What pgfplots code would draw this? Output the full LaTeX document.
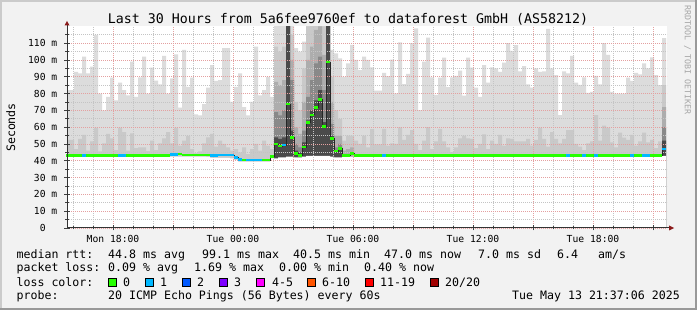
\documentclass[border=0pt]{standalone}
\usepackage{pgfplots}
\pgfplotsset{compat=1.18}
\usepackage{pgfplotstable}
\usepackage{fontspec}
\setmainfont{DejaVu Sans Mono}
\usetikzlibrary{arrows.meta}

\definecolor{bgc}{HTML}{F2F2F2}
\definecolor{shadeA}{HTML}{CBCBCB}
\definecolor{shadeB}{HTML}{999999}
\definecolor{smokeA}{HTML}{DCDCDC}
\definecolor{smokeB}{HTML}{C9C9C9}
\definecolor{smokeC}{HTML}{ADADAD}
\definecolor{smokeD}{HTML}{898989}
\definecolor{smokeE}{HTML}{4A4A4A}
\definecolor{lossA}{HTML}{26FF00}
\definecolor{lossB}{HTML}{00B8FF}
\definecolor{lossC}{HTML}{0059FF}
\definecolor{lossD}{HTML}{7E00FF}
\definecolor{lossE}{HTML}{FF00FF}
\definecolor{lossF}{HTML}{FF5500}
\definecolor{lossG}{HTML}{FF0000}
\definecolor{lossH}{HTML}{A10000}
\definecolor{mgrid}{HTML}{E4A0A0}
\definecolor{ngrid}{HTML}{C4C4C4}
\definecolor{arrowred}{HTML}{8B1A1A}

\newcommand\ticfont{\fontsize{9.7bp}{11bp}\selectfont}
\newcommand\legfont{\fontsize{11.6bp}{13bp}\selectfont}
\newcommand\titfont{\fontsize{13.3bp}{15bp}\selectfont}
\newcommand\tinfont{\fontsize{8.3bp}{9bp}\selectfont}

% k: 12-minute bar index (time = 15.65 h + 0.2 h * k, hours after Mon 00:00)
\pgfplotstableread{
k top v2 v3 v4 v5 lo med loss
0 82 52.4 0 0 0 42.3 43.2 g
1 82 52.4 0 0 0 42.3 43.2 g
2 93 47 0 0 0 42.3 43.2 g
3 92 53 0 0 0 42.3 43.2 g
4 102 55.4 0 0 0 42.3 43.2 b
5 92 46 0 0 0 42.3 43.2 g
6 96 51.5 0 0 0 42.3 43.2 g
7 115 59.7 0 0 0 42.3 43.2 g
8 80 45.6 0 0 0 42.3 43.2 g
9 70 50.4 0 0 0 42.3 43.2 g
10 78 56 0 0 0 42.3 43.2 g
11 89.5 53.4 0 0 0 42.3 43.2 g
12 76 46.4 0 0 0 42.3 43.2 g
13 86.5 59.7 0 0 0 42.3 43.2 b
14 82 57 0 0 0 42.3 43.2 b
15 79 46 0 0 0 42.3 43.2 g
16 99 56.3 0 0 0 42.3 43.2 g
17 78 47.6 0 0 0 42.3 43.2 g
18 89.7 48 0 0 0 42.3 43.2 g
19 102 48 0 0 0 42.3 43.2 g
20 80 45.8 0 0 0 42.3 43.2 g
21 95.4 52 0 0 0 42.3 43.2 g
22 87.7 46.4 0 0 0 42.3 43.2 g
23 85.5 50.4 0 0 0 42.3 43.2 g
24 102.4 53.4 0 0 0 42.3 43.2 g
25 80 57 0 0 0 42.3 43.2 g
26 89 50.4 0 0 0 42.5 43.6 b
27 103.4 59.7 0 0 0 42.5 43.6 b
28 71.6 49 0 0 0 42.5 44.0 g
29 106 52 0 0 0 42.5 43.4 g
30 84 54.8 0 0 0 42.5 43.4 g
31 89.5 47 0 0 0 42.5 43.4 g
32 67.7 44.5 0 0 0 42.5 43.4 g
33 67 45.6 0 0 0 42.5 43.4 g
34 73.8 50.4 0 0 0 42.5 43.4 g
35 83.6 54 0 0 0 42.3 43.4 g
36 97 56 0 0 0 41.8 43.0 b
37 87.5 48.4 0 0 0 41.8 43.2 b
38 88 52 0 0 0 41.8 43.4 b
39 107 50 0 0 0 41.8 43.4 b
40 107 48 0 0 0 41.8 43.4 b
41 75 46 0 0 0 41.5 43.4 b
42 84 47 0 0 0 40.5 42.0 b
43 92 45 0 0 0 39.5 40.6 b
44 72 48 0 0 0 39.5 40.5 g
45 67 44 0 0 0 39.5 40.5 b
46 75 47 0 0 0 39.5 40.5 b
47 108 50 0 0 0 39.5 40.5 b
48 79 46 0 0 0 39.5 40.5 b
49 82 52 0 0 0 39.5 40.5 g
50 90 49 0 0 0 39.5 40.5 g
51 78 47 0 0 0 41.5 42.5 g
52 125 108 87 69 54 41.5 50.0 g
53 125 105 85 67 53 42 48.8 g
54 125 108 88 70 54 42 49.4 b
55 125 125 125 125 122 42.5 73.8 g
56 125 115 100 88 58 42.5 54.0 g
57 107 75 60 50 46 42 44.2 g
58 105 70 56 48 45 42 43.0 g
59 111 95 75 58 51 42.5 48.2 g
60 125 120 100 78 64 43 62.7 g
61 125 125 108 88 70 43 67.3 g
62 125 125 118 98 76 43 71.8 g
63 125 125 120 102 82 43 76.6 g
64 125 120 103 82 63 43 60.3 g
65 125 125 125 125 122 43 98.8 g
66 106 90 75 62 55 42.5 53.2 g
67 104 70 55 48 46 42 45.8 g
68 101 65 55 50 48 42 47.4 g
69 90 52 46 0 0 42.3 43.0 g
70 98 55 47 0 0 42.3 43.0 g
71 109 55 48 0 0 42.3 44.4 g
72 100 52 0 0 0 42.3 43.1 g
73 94 50 0 0 0 42.3 43.1 g
74 102 55 0 0 0 42.3 43.1 g
75 100 48 0 0 0 42.3 43.1 g
76 95.6 58.9 0 0 0 42.3 43.1 g
77 81.7 49.8 0 0 0 42.3 43.1 g
78 81.7 49.8 0 0 0 42.3 43.1 g
79 92.4 59 0 0 0 42.3 43.1 b
80 90.4 49 0 0 0 42.3 43.1 g
81 100.2 50.4 0 0 0 42.3 43.1 g
82 80.2 50 0 0 0 42.3 43.1 g
83 110.5 59.9 0 0 0 42.3 43.1 g
84 85.7 52.4 0 0 0 42.3 43.1 g
85 91.7 55.4 0 0 0 42.3 43.1 g
86 110 58.3 0 0 0 42.3 43.1 g
87 118.8 50 0 0 0 42.3 43.1 g
88 70.2 46.4 0 0 0 42.3 43.1 g
89 99 52 0 0 0 42.3 43.1 g
90 113.3 60 0 0 0 42.3 43.1 g
91 89.7 47 0 0 0 42.3 43.1 g
92 79.2 51.6 0 0 0 42.3 43.1 g
93 89.5 59 0 0 0 42.3 43.1 g
94 101.4 51.6 0 0 0 42.3 43.1 g
95 83.9 48 0 0 0 42.3 43.1 g
96 89.7 45.1 0 0 0 42.3 43.1 g
97 90.6 48 0 0 0 42.3 43.1 g
98 93.6 53.4 0 0 0 42.3 43.1 g
99 78.8 55 0 0 0 42.3 43.1 g
100 101.4 53.4 0 0 0 42.3 43.1 g
101 95.4 53 0 0 0 42.3 43.1 g
102 83.5 47.6 0 0 0 42.3 43.1 g
103 78 50 0 0 0 42.3 43.1 g
104 97 55.8 0 0 0 42.3 43.1 g
105 86.5 47 0 0 0 42.3 43.1 g
106 95.6 52 0 0 0 42.3 43.1 g
107 95 50 0 0 0 42.3 43.1 g
108 93 55.4 0 0 0 42.3 43.1 g
109 98.4 49 0 0 0 42.3 43.1 g
110 110.1 53.4 0 0 0 42.3 43.1 g
111 105.5 53 0 0 0 42.3 43.1 g
112 108.9 51.6 0 0 0 42.3 43.1 g
113 93.3 51.6 0 0 0 42.3 43.1 g
114 96.4 51.6 0 0 0 42.3 43.1 g
115 85.5 53 0 0 0 42.3 43.1 g
116 83.5 49 0 0 0 42.3 43.1 g
117 95 52.4 0 0 0 42.3 43.1 g
118 93 59.7 0 0 0 42.3 43.1 g
119 93.3 53 0 0 0 42.3 43.1 g
120 118.5 48.4 0 0 0 42.3 43.1 g
121 95 57 0 0 0 42.3 43.1 g
122 91 53 0 0 0 42.3 43.1 g
123 67.2 50.4 0 0 0 42.3 43.1 g
124 93.3 53 0 0 0 42.3 43.1 g
125 92 58.3 0 0 0 42.3 43.1 b
126 102.4 58.3 0 0 0 42.3 43.1 g
127 86.5 50 0 0 0 42.3 43.1 g
128 85.2 48.4 0 0 0 42.3 43.1 g
129 89.7 46.4 0 0 0 42.3 43.1 b
130 80.5 50.4 0 0 0 42.3 43.1 g
131 81 51.6 0 0 0 42.3 43.1 g
132 90.5 67.2 0 0 0 42.3 43.1 b
133 85.5 52 0 0 0 42.3 43.1 g
134 110 61 0 0 0 42.3 43.1 g
135 103 59.7 0 0 0 42.3 43.1 g
136 81 51 0 0 0 42.3 43.1 g
137 80 48 0 0 0 42.3 43.1 g
138 80 56.8 0 0 0 42.3 43.1 g
139 80 53.8 0 0 0 42.3 43.1 g
140 89.5 52.4 0 0 0 42.3 43.1 g
141 87.5 55.4 0 0 0 42.3 43.1 b
142 92.4 49 0 0 0 42.3 43.1 g
143 91.4 51.6 0 0 0 42.3 43.1 g
144 98 56.8 0 0 0 42.3 43.1 b
145 95 51 0 0 0 42.3 43.1 b
146 101.6 52.4 0 0 0 42.3 43.1 g
147 91 47.6 0 0 0 42.3 43.1 g
148 85 51.6 0 0 0 42.3 43.1 g
149 113 85 72 60 52 43 47.0 b
150 113 85 72 60 52 43 47.0 b
}\smoke

\begin{document}
\begin{tikzpicture}
\useasboundingbox (0,0) rectangle (697bp,310bp);
\fill[bgc] (0,0) rectangle (697bp,310bp);
\draw[shadeA, line width=2bp] (1bp,0) -- (1bp,309bp) -- (697bp,309bp);
\draw[shadeB, line width=2bp] (0,1bp) -- (696bp,1bp) -- (696bp,310bp);

\begin{axis}[
  at={(67bp,82bp)}, anchor=south west,
  scale only axis, width=600bp, height=201.6bp,
  xmin=15.7, xmax=45.7, ymin=0, ymax=120,
  axis background/.style={fill=white},
  axis line style={draw=none},
  axis on top,
  tick pos=left, tick align=center,
  major tick length=5bp, minor tick length=3bp,
  every tick/.style={black!75, line width=0.8bp},
  xtick={18,21,...,45},
  xticklabels={Mon 18:00,,Tue 00:00,,Tue 06:00,,Tue 12:00,,Tue 18:00,},
  minor xtick={16,17,19,20,22,23,25,26,28,29,31,32,34,35,37,38,40,41,43,44},
  ytick={0,10,...,110},
  yticklabels={0\phantom{mm},10 m,20 m,30 m,40 m,50 m,60 m,70 m,80 m,90 m,100 m,110 m},
  minor ytick={5,15,...,115},
  grid=both,
  major grid style={mgrid, dash pattern=on 1bp off 1bp, line width=0.8bp},
  minor grid style={ngrid, dash pattern=on 1bp off 1bp, line width=0.8bp},
  x tick label style={font=\ticfont, inner sep=0pt, yshift=-5bp},
  y tick label style={font=\ticfont, inner sep=0pt, xshift=-7bp},
]
\addplot[const plot mark left, fill=smokeA, draw=none] table[x expr=15.65+0.2*\thisrow{k}, y=top] {\smoke} \closedcycle;
\addplot[const plot mark left, fill=smokeB, draw=none] table[x expr=15.65+0.2*\thisrow{k}, y=v2] {\smoke} \closedcycle;
\addplot[const plot mark left, fill=smokeC, draw=none] table[x expr=15.65+0.2*\thisrow{k}, y=v3] {\smoke} \closedcycle;
\addplot[const plot mark left, fill=smokeD, draw=none] table[x expr=15.65+0.2*\thisrow{k}, y=v4] {\smoke} \closedcycle;
\addplot[const plot mark left, fill=smokeE, draw=none] table[x expr=15.65+0.2*\thisrow{k}, y=v5] {\smoke} \closedcycle;
\addplot[const plot mark left, fill=white, draw=none] table[x expr=15.65+0.2*\thisrow{k}, y=lo] {\smoke} \closedcycle;
\addplot[const plot mark left, draw=black!85, line width=0.9bp] table[x expr=15.65+0.2*\thisrow{k}, y=med] {\smoke};
\addplot[scatter, only marks, mark=-, mark size=2bp,
  mark options={line width=2.8bp},
  scatter src=explicit symbolic,
  scatter/classes={g={mark=-,draw=lossA}, b={mark=-,draw=lossB}},
  restrict x to domain=15:45.7]
  table[x expr=15.75+0.2*\thisrow{k}, y=med, meta=loss] {\smoke};
\end{axis}

% axes with arrows
\draw[black!80, line width=1bp] (67bp,82bp) -- (670bp,82bp);
\fill[arrowred] (669bp,79.5bp) -- (674bp,82bp) -- (669bp,84.5bp) -- cycle;
\draw[black!80, line width=1bp] (67bp,82bp) -- (67bp,285bp);
\fill[arrowred] (64.5bp,284.5bp) -- (67bp,289bp) -- (69.5bp,284.5bp) -- cycle;

% title and side texts
\node[font=\titfont, anchor=base, inner sep=0] at (348bp,286bp) {Last 30 Hours from 5a6fee9760ef to dataforest GmbH (AS58212)};
\node[font=\legfont, rotate=90, inner sep=0] at (10.7bp,182.5bp) {Seconds};
\node[font=\tinfont, rotate=-90, inner sep=0, text=black!35] at (687.5bp,250bp) {RRDTOOL / TOBI OETIKER};

% legend
\begin{scope}[every node/.style={font=\legfont, anchor=base west, inner sep=0}]
\node at (16.4bp,51.5bp) {median rtt:};
\node at (108bp,51.5bp) {44.8 ms avg};
\node at (202bp,51.5bp) {99.1 ms max};
\node at (293bp,51.5bp) {40.5 ms min};
\node at (384bp,51.5bp) {47.0 ms now};
\node at (478bp,51.5bp) {7.0 ms sd};
\node at (557bp,51.5bp) {6.4};
\node at (598bp,51.5bp) {am/s};
\node at (16.4bp,38.3bp) {packet loss:};
\node at (108bp,38.3bp) {0.09 \% avg};
\node at (194bp,38.3bp) {1.69 \% max};
\node at (279bp,38.3bp) {0.00 \% min};
\node at (364bp,38.3bp) {0.40 \% now};
\node at (16.4bp,24bp) {loss color:};
\node at (123bp,24bp) {0};
\node at (160bp,24bp) {1};
\node at (197bp,24bp) {2};
\node at (234bp,24bp) {3};
\node at (272bp,24bp) {4-5};
\node at (322bp,24bp) {6-10};
\node at (380bp,24bp) {11-19};
\node at (445bp,24bp) {20/20};
\node at (16.4bp,10.7bp) {probe:};
\node at (108bp,10.7bp) {20 ICMP Echo Pings (56 Bytes) every 60s};
\node[anchor=base east] at (680bp,10.7bp) {Tue May 13 21:37:06 2025};
\end{scope}
\begin{scope}[line width=0.8bp]
\filldraw[fill=lossA, draw=black] (108.4bp,24bp) rectangle (116.4bp,32bp);
\filldraw[fill=lossB, draw=black] (145.4bp,24bp) rectangle (153.4bp,32bp);
\filldraw[fill=lossC, draw=black] (182.4bp,24bp) rectangle (190.4bp,32bp);
\filldraw[fill=lossD, draw=black] (219.4bp,24bp) rectangle (227.4bp,32bp);
\filldraw[fill=lossE, draw=black] (256.4bp,24bp) rectangle (264.4bp,32bp);
\filldraw[fill=lossF, draw=black] (307.4bp,24bp) rectangle (315.4bp,32bp);
\filldraw[fill=lossG, draw=black] (365.4bp,24bp) rectangle (373.4bp,32bp);
\filldraw[fill=lossH, draw=black] (430.4bp,24bp) rectangle (438.4bp,32bp);
\end{scope}
\end{tikzpicture}
\end{document}
